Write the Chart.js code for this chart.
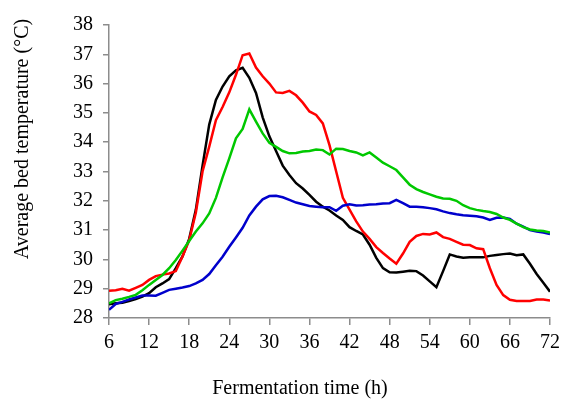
<!DOCTYPE html>
<html>
<head>
<meta charset="utf-8">
<script src="https://cdn.jsdelivr.net/npm/chart.js@4"></script>
<style>
  html, body { margin: 0; padding: 0; background: #fff; }
  #wrap { width: 566px; height: 400px; }
</style>
</head>
<body>
<div id="wrap"><canvas id="tempChart" width="566" height="400"></canvas></div>
<script>
// Fermentation time, hours 6..72
const HOURS = [6,7,8,9,10,11,12,13,14,15,16,17,18,19,20,21,22,23,24,25,26,27,28,29,30,31,32,33,34,35,36,37,38,39,40,41,42,43,44,45,46,47,48,49,50,51,52,53,54,55,56,57,58,59,60,61,62,63,64,65,66,67,68,69,70,71,72];

const RED = [28.93,28.95,29.0,28.93,29.03,29.13,29.3,29.43,29.48,29.52,29.6,30.1,30.65,31.6,33.0,33.85,34.75,35.2,35.7,36.3,36.97,37.03,36.55,36.25,36.0,35.7,35.68,35.75,35.6,35.35,35.05,34.93,34.64,33.9,33.0,32.1,31.7,31.3,30.95,30.7,30.42,30.22,30.03,29.85,30.2,30.6,30.8,30.87,30.85,30.92,30.76,30.7,30.6,30.5,30.49,30.38,30.35,29.7,29.13,28.78,28.62,28.58,28.58,28.58,28.63,28.63,28.6];

const BLACK = [28.47,28.5,28.52,28.58,28.65,28.73,28.85,29.05,29.18,29.33,29.7,30.1,30.7,31.7,33.2,34.6,35.44,35.9,36.25,36.45,36.54,36.2,35.68,34.85,34.2,33.7,33.2,32.88,32.6,32.42,32.2,31.97,31.8,31.67,31.5,31.35,31.1,30.97,30.85,30.5,30.05,29.7,29.56,29.55,29.58,29.61,29.6,29.45,29.25,29.05,29.6,30.17,30.1,30.06,30.07,30.07,30.07,30.12,30.15,30.18,30.2,30.14,30.17,29.85,29.5,29.2,28.9];

const GREEN = [28.5,28.61,28.66,28.72,28.79,28.95,29.13,29.3,29.47,29.7,29.98,30.3,30.63,30.95,31.23,31.57,32.1,32.8,33.45,34.13,34.45,35.12,34.7,34.3,33.98,33.84,33.7,33.62,33.63,33.68,33.7,33.75,33.73,33.58,33.78,33.77,33.7,33.65,33.55,33.65,33.48,33.3,33.18,33.05,32.8,32.55,32.4,32.3,32.22,32.14,32.08,32.07,32.0,31.85,31.75,31.69,31.65,31.62,31.55,31.43,31.35,31.22,31.1,31.02,30.99,30.97,30.92];

const BLUE = [28.28,28.48,28.55,28.63,28.7,28.77,28.77,28.76,28.86,28.96,29.0,29.04,29.09,29.18,29.3,29.5,29.8,30.09,30.43,30.75,31.08,31.5,31.8,32.05,32.16,32.17,32.12,32.03,31.94,31.88,31.82,31.8,31.78,31.78,31.66,31.83,31.88,31.84,31.85,31.87,31.88,31.91,31.92,32.03,31.92,31.8,31.8,31.78,31.75,31.71,31.64,31.58,31.54,31.51,31.49,31.47,31.43,31.35,31.42,31.43,31.38,31.22,31.12,31.0,30.95,30.92,30.87];

const X_TITLE = 'Fermentation time (h)';
const Y_TITLE = 'Average bed temperature (°C)';

const FONT = "'Liberation Serif', 'Times New Roman', serif";
const AXIS_GRAY = '#8c8c8c';

function series(vals) {
  return vals.map((v, i) => ({ x: HOURS[i], y: v }));
}

function line(vals, color) {
  return {
    data: series(vals),
    borderColor: color,
    backgroundColor: color,
    borderWidth: 2.5,
    pointRadius: 0,
    tension: 0,
    fill: false,
  };
}

// axis titles drawn by hand, they sit off-centre in the original
const titlePlugin = {
  id: 'titles',
  afterDraw(chart) {
    const c = chart.ctx;
    c.save();
    c.fillStyle = '#000';
    c.font = '20px ' + FONT;
    c.textAlign = 'center';
    c.textBaseline = 'middle';
    c.fillText(X_TITLE, 300, 389);
    c.translate(23, 139);
    c.rotate(-Math.PI / 2);
    c.fillText(Y_TITLE, 0, 0);
    c.restore();
  }
};

new Chart(document.getElementById('tempChart'), {
  type: 'line',
  data: {
    datasets: [
      line(GREEN, '#00c800'),
      line(BLUE, '#0000cc'),
      line(RED, '#ff0000'),
      line(BLACK, '#000000'),
    ]
  },
  options: {
    responsive: false,
    animation: false,
    layout: { padding: { top: 25, right: 11, left: 0, bottom: 0 } },
    plugins: {
      legend: { display: false },
      tooltip: { enabled: false },
    },
    scales: {
      x: {
        type: 'linear',
        min: 6, max: 72,
        afterFit: s => { s.height = 82; },
        border: { color: AXIS_GRAY, width: 1.5 },
        grid: { drawOnChartArea: false, drawTicks: true, tickLength: 7, color: AXIS_GRAY, lineWidth: 1.5 },
        ticks: { stepSize: 6, color: '#000', font: { family: FONT, size: 20 }, padding: 6, maxRotation: 0 }
      },
      y: {
        min: 28, max: 38,
        afterFit: s => { s.width = 109; },
        border: { color: AXIS_GRAY, width: 1.5 },
        grid: { drawOnChartArea: false, drawTicks: true, tickLength: 6, color: AXIS_GRAY, lineWidth: 1.5 },
        ticks: { stepSize: 1, color: '#000', font: { family: FONT, size: 20 }, padding: 10 }
      }
    }
  },
  plugins: [titlePlugin]
});
</script>
</body>
</html>
